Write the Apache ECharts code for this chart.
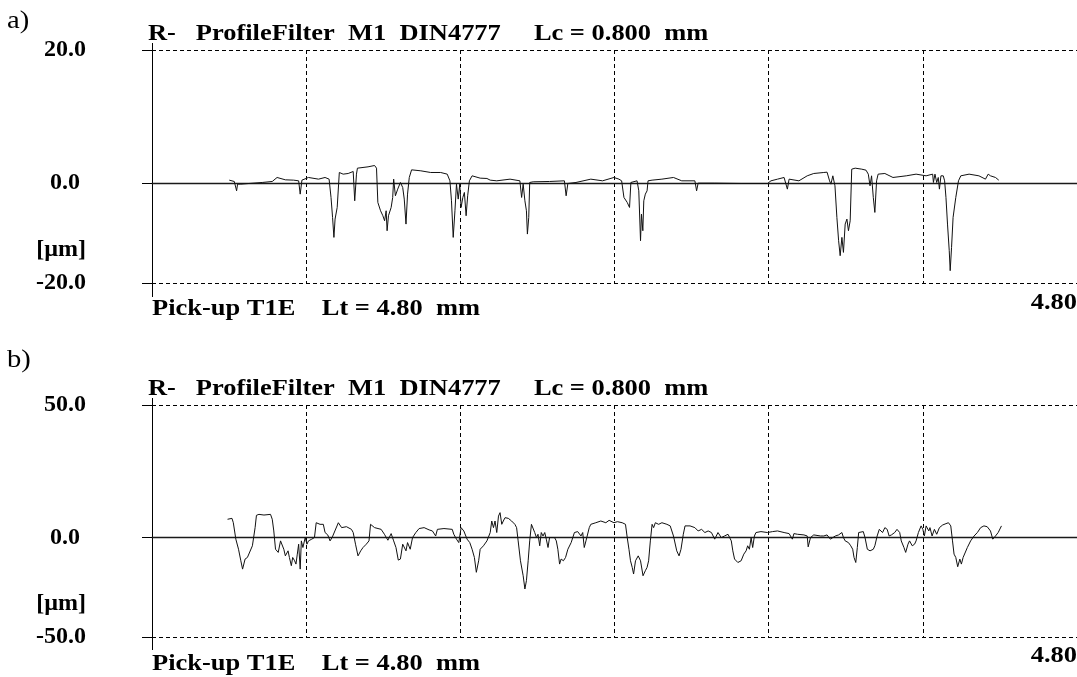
<!DOCTYPE html>
<html>
<head>
<meta charset="utf-8">
<script src="https://cdn.jsdelivr.net/npm/echarts@6/dist/echarts.min.js"></script>
<style>
  html, body { margin: 0; padding: 0; background: #fff; }
  #chart { width: 1077px; height: 677px; }
</style>
</head>
<body>
<div id="chart"></div>
<script>
// a) filtered roughness profile: position [mm], height [µm]
const profileAX = [0.401,0.427,0.435,0.439,0.444,0.461,0.504,0.572,0.624,0.649,0.692,0.735,0.761,0.769,0.778,0.812,0.864,0.898,0.919,0.929,0.937,0.944,0.950,0.961,0.972,0.992,1.018,1.044,1.052,1.061,1.066,1.121,1.155,1.165,1.172,1.186,1.198,1.207,1.215,1.220,1.227,1.241,1.249,1.254,1.263,1.275,1.289,1.301,1.309,1.318,1.326,1.335,1.347,1.395,1.446,1.498,1.532,1.546,1.554,1.563,1.572,1.580,1.589,1.597,1.604,1.613,1.621,1.630,1.638,1.647,1.661,1.703,1.738,
  1.755,1.789,1.858,1.909,1.918,1.926,1.935,1.943,1.948,1.955,1.960,1.978,2.063,2.140,2.149,2.158,2.200,2.277,2.338,2.397,2.423,2.437,2.449,2.457,2.466,2.478,2.485,2.492,2.517,2.526,2.535,2.540,2.547,2.552,2.560,2.569,2.574,2.595,2.646,2.706,2.749,2.817,2.826,2.834,2.920,3.057,3.194,3.212,3.246,3.280,3.297,3.306,3.357,3.400,3.434,3.486,
  3.503,3.516,3.523,3.533,3.544,3.554,3.563,3.571,3.580,3.588,3.597,3.606,3.614,3.623,3.631,3.649,3.683,3.705,3.717,3.726,3.734,3.743,3.751,3.760,3.768,3.803,3.845,3.914,3.965,4.017,4.051,4.055,4.063,4.072,4.080,4.086,4.094,4.106,4.113,4.120,4.128,4.137,4.142,4.149,4.157,4.171,4.185,4.197,4.240,4.291,4.325,4.339,4.351,4.377,4.394]
const profileAZ = [0.45,0.25,0.1,-1.15,-0.15,-0.15,-0.05,0.1,0.25,0.85,0.5,0.45,0.35,-1.65,0.45,0.85,0.6,0.85,0.6,-2.15,-5.15,-8.15,-5.4,-3.65,1.6,1.35,1.45,1.75,-2.65,1.35,2.25,2.45,2.65,2.25,-2.9,-4.15,-4.9,-5.65,-4.15,-7.15,-4.9,-3.65,-2.15,0.6,-1.9,-0.9,0.1,-0.65,-2.4,-6.15,-1.65,0.85,2.0,1.85,1.6,1.6,1.35,0.35,-2.65,-8.15,-4.15,-0.15,-2.4,-0.15,-3.65,-2.15,-1.4,-4.9,-1.9,0.35,1.1,0.75,0.7,
  0.45,0.35,0.6,0.35,-2.15,-0.15,-2.65,-4.15,-7.65,-5.15,0.1,0.2,0.25,0.35,-1.9,-0.05,0.1,0.6,0.35,0.85,0.6,0.35,-2.15,-2.4,-2.9,-3.65,0.1,0.35,0.35,-1.15,-8.65,-4.65,-7.15,-2.65,-1.65,-1.15,0.35,0.45,0.6,0.85,0.35,0.35,-1.15,0,0,-0.05,-0.05,0.35,0.6,0.85,-0.9,0.6,0.35,1.1,1.45,1.6,
  1.65,0.35,-0.15,1.1,-0.4,-5.15,-8.65,-10.9,-8.15,-10.4,-6.15,-5.4,-7.15,-5.65,2.1,2.25,2.1,1.95,1.35,-0.4,1.1,-2.15,-4.4,0.35,1.35,1.45,0.85,1.1,1.35,1.1,1.35,0.1,1.35,0.1,0.85,-0.9,1.1,1.1,0.35,-2.15,-6.15,-10.15,-13.15,-9.65,-5.15,-2.15,0.35,1.1,1.35,1.1,0.6,1.35,1.1,0.85,0.45]

// b) unfiltered profile: position [mm], height [µm]
const profileBX = [0.392,0.415,0.422,0.435,0.449,0.461,0.470,0.483,0.495,0.504,0.521,0.535,0.542,0.555,0.581,0.615,0.624,0.632,0.641,0.655,0.667,0.675,0.684,0.692,0.706,0.713,0.723,0.730,0.740,0.747,0.754,0.761,0.769,0.775,0.783,0.795,0.804,0.812,0.821,0.829,0.843,0.852,0.872,0.889,0.898,0.912,0.924,0.936,0.949,0.967,0.984,1.009,1.035,1.044,1.056,1.069,1.083,1.095,1.112,1.126,1.134,1.155,1.189,1.206,1.224,1.241,1.254,1.266,1.278,1.289,1.301,1.318,1.326,1.340,1.352,1.369,1.386,1.412,1.438,1.455,1.472,1.481,1.515,1.558,1.566,1.580,1.592,1.604,1.618,1.626,1.635,1.649,1.661,1.673,1.683,1.695,1.703,1.720,1.738,
  1.746,1.755,1.763,1.772,1.780,1.789,1.798,1.806,1.815,1.823,1.832,1.849,1.866,1.883,1.892,1.900,1.912,1.926,1.935,1.943,1.952,1.960,1.969,1.978,1.986,1.995,2.003,2.012,2.020,2.029,2.038,2.046,2.055,2.063,2.072,2.089,2.098,2.106,2.115,2.123,2.135,2.146,2.158,2.175,2.192,2.209,2.226,2.235,2.243,2.252,2.269,2.277,2.303,2.329,2.355,2.372,2.397,2.415,2.440,2.457,2.466,2.475,2.483,2.492,2.499,2.509,2.523,2.535,2.548,2.560,2.569,2.577,2.586,2.595,2.603,2.612,2.629,2.646,2.672,2.689,2.706,2.723,2.735,2.745,2.757,2.766,2.792,2.817,2.834,2.852,2.869,2.886,2.903,2.920,2.937,2.954,2.971,2.989,3.006,3.014,3.023,3.040,3.057,3.071,3.083,3.091,3.100,3.109,3.117,3.126,3.134,3.160,3.194,3.220,3.246,3.280,3.306,3.323,3.331,3.349,3.383,3.400,3.405,3.417,3.434,3.469,
  3.486,3.503,3.520,3.528,3.546,3.563,3.580,3.588,3.597,3.606,3.614,3.626,3.636,3.643,3.652,3.660,3.667,3.674,3.691,3.700,3.712,3.726,3.743,3.751,3.763,3.774,3.780,3.791,3.803,3.815,3.825,3.837,3.854,3.866,3.880,3.888,3.902,3.911,3.923,3.931,3.945,3.957,3.965,3.977,3.991,4.000,4.008,4.017,4.031,4.037,4.048,4.060,4.072,4.086,4.103,4.120,4.133,4.145,4.154,4.162,4.171,4.181,4.192,4.200,4.209,4.219,4.231,4.248,4.266,4.283,4.300,4.317,4.334,4.351,4.363,4.377,4.391,4.408]
const profileBZ = [6.9,7.25,5.6,-0.6,-4.4,-8.75,-11.9,-8.1,-7.5,-6.9,-3.1,3.75,8.4,8.75,8.5,8.75,6.9,2.5,-4.4,-5.6,-1.25,-0.6,-4.4,-6.9,-5,-7.5,-10.6,-7.5,-8.75,-10,-6.25,-2.5,-11.9,-1.25,-3.75,0,-2.5,-1.25,-1.9,-0.6,0,5.6,5,5,1.9,1,-1.25,0.25,2.5,5.6,3.75,4.1,3.1,1.9,-2.5,-6.9,-5,-3.75,-2.5,-1.25,5,3.75,3.1,1.25,-1,1.5,-1.25,-3.75,-8.5,-8.1,-2.5,-5,-1.9,-4.4,0,1.9,3.4,3.75,2.9,2.5,0.6,3.1,3.4,3.1,1.25,-0.6,-1.9,3.75,2.5,1.9,-0.6,-1.9,-4.4,-7.5,-13.1,-8.75,-4.4,-3.1,-1.25,
  -0.6,1.9,6.25,3.75,6.25,1.9,8.1,9.4,5,6.25,7.5,7.25,6.25,5,3.75,-1.25,-8.75,-14.4,-19.4,-16.25,-8.75,-1.25,5,5.6,1.9,0,1.25,-3.1,1.9,0.6,1.9,-0.6,-3.75,0,-0.6,0,-1.25,-4.4,-10,-8.1,-8.75,-7.5,-4.4,-1.9,1.9,2.25,0.6,1.9,-3.75,-1.25,3.75,5,5.6,6.25,5.6,6.5,5.6,6,5.6,5,0,-4.4,-8.75,-11.25,-13.75,-8.75,-6.9,-8.75,-14.4,-12.5,-11.25,-8.75,-1.25,5,3.75,5.6,5,5.6,5,4.4,0.6,-5,-6.9,-4.4,1.25,4.4,4.4,3.75,2.5,3.1,1.9,2.5,1.9,-0.6,1.9,0,0.6,1.25,-1.25,-5,-8.1,-9.4,-8.75,-6.25,-5,-3.1,-4.4,0,-3.75,0.6,1.9,2.25,1.9,2.25,2.5,1.9,1.5,-0.6,1.5,1.25,1,0.6,-3.5,0,1,0.6,
  0.6,1,-0.6,0,0.6,1,1.9,0,-1.25,-0.6,-1.9,-3.1,-4.4,-7.5,-9.4,-3.75,1.9,2.25,2.25,0,-4.4,-5,-4.4,-3.1,0.6,3.1,3.75,1.9,3.75,3.1,0.6,1,1.9,3.1,1.9,-1.25,-3.75,-5.6,-2.5,-1.25,-3.1,-2.5,-1.25,1.9,4.4,3.1,0.6,4.4,2.5,3.75,0.6,3.1,1.25,3.75,4.75,5.25,5.6,4.4,-1.25,-6.25,-7.5,-11,-8.1,-10,-7.5,-6.9,-3.75,-1.25,0.6,1.9,3.75,4.4,4.1,2.5,-0.6,0.6,1.9,4.4]

// y axis: tick positions and the texts printed at them
const yTickValuesA = [20, 0, -10, -15]
const yTickLabelsA = ['20.0', '0.0', '[µm]', '-20.0']
const yTickValuesB = [50, 0, -25, -37.5]
const yTickLabelsB = ['50.0', '0.0', '[µm]', '-50.0']

const panelTags = ['a)', 'b)']
const headerText = 'R-   ProfileFilter  M1  DIN4777     Lc = 0.800  mm'
const footerText = 'Pick-up T1E    Lt = 4.80  mm'
const endLabel = '4.80'

const chart = echarts.init(document.getElementById('chart'))

const serif = '"Liberation Serif", "Times New Roman", serif'
const dashed = { color: '#000', width: 1, type: [4, 3] }
const labelFont = { color: '#000', fontFamily: serif, fontWeight: 'bold', fontSize: 24 }

function zip(xs, zs) {
  return xs.map((x, i) => [x, zs[i]])
}

function yAxisFor(gridIndex, min, max, step, values, labels) {
  return {
    type: 'value',
    gridIndex,
    min,
    max,
    interval: step,
    axisLine: { show: true, onZero: false, lineStyle: { color: '#000', width: 1 } },
    axisTick: {
      show: true,
      customValues: [max, 0, min],
      length: 10,
      lineStyle: { color: '#000', width: 1 },
    },
    axisLabel: {
      show: true,
      customValues: values,
      formatter: (v) => {
        const i = values.indexOf(v)
        if (i < 0) return ''
        return v === 0 ? '{zero|' + labels[i] + '}' : labels[i]
      },
      margin: 66,
      ...labelFont,
      rich: { zero: { ...labelFont, padding: [0, 6, 0, 0] } },
    },
    splitLine: { show: true, lineStyle: dashed },
  }
}

function xAxisFor(gridIndex) {
  return {
    type: 'value',
    gridIndex,
    min: 0,
    max: 4.8,
    interval: 0.8,
    axisLine: { show: true, onZero: true, lineStyle: { color: '#1a1a1a', width: 1.3 } },
    axisTick: { show: false },
    axisLabel: { show: false },
    splitLine: { show: true, lineStyle: dashed },
  }
}

function txt(x, y, text, opts) {
  return {
    type: 'text',
    x,
    y,
    scaleX: opts.scaleX || 1.15,
    style: {
      text,
      font: opts.font,
      fill: '#000',
      textAlign: opts.align || 'left',
      align: opts.align || 'left',
      textVerticalAlign: 'middle',
      verticalAlign: 'middle',
    },
  }
}

function vline(x, y1, y2) {
  return {
    type: 'line',
    shape: { x1: x, y1, x2: x, y2 },
    style: { stroke: '#000', lineWidth: 1 },
  }
}

const bold = 'bold 23px ' + serif
const plain = '26px ' + serif

chart.setOption({
  animation: false,
  backgroundColor: '#fff',
  grid: [
    { left: 152, right: -9, top: 50, height: 233 },
    { left: 152, right: -9, top: 405, height: 232 },
  ],
  xAxis: [xAxisFor(0), xAxisFor(1)],
  yAxis: [
    yAxisFor(0, -15, 20, 5, yTickValuesA, yTickLabelsA),
    yAxisFor(1, -37.5, 50, 12.5, yTickValuesB, yTickLabelsB),
  ],
  series: [
    {
      type: 'line',
      xAxisIndex: 0,
      yAxisIndex: 0,
      data: zip(profileAX, profileAZ),
      showSymbol: false,
      lineStyle: { color: '#111', width: 1 },
    },
    {
      type: 'line',
      xAxisIndex: 1,
      yAxisIndex: 1,
      data: zip(profileBX, profileBZ),
      showSymbol: false,
      lineStyle: { color: '#111', width: 1 },
    },
  ],
  graphic: [
    txt(7, 21, panelTags[0], { font: plain, scaleX: 1.1 }),
    txt(148, 34, headerText, { font: bold }),
    txt(152, 309, footerText, { font: bold }),
    txt(1077, 303, endLabel, { font: bold, align: 'right' }),
    txt(7, 360, panelTags[1], { font: plain, scaleX: 1.1 }),
    txt(148, 389, headerText, { font: bold }),
    txt(152, 664, footerText, { font: bold }),
    txt(1077, 656, endLabel, { font: bold, align: 'right' }),
    vline(152.5, 43, 50),
    vline(152.5, 283, 297),
    vline(152.5, 398, 405),
    vline(152.5, 637, 650),
  ],
})
</script>
</body>
</html>
